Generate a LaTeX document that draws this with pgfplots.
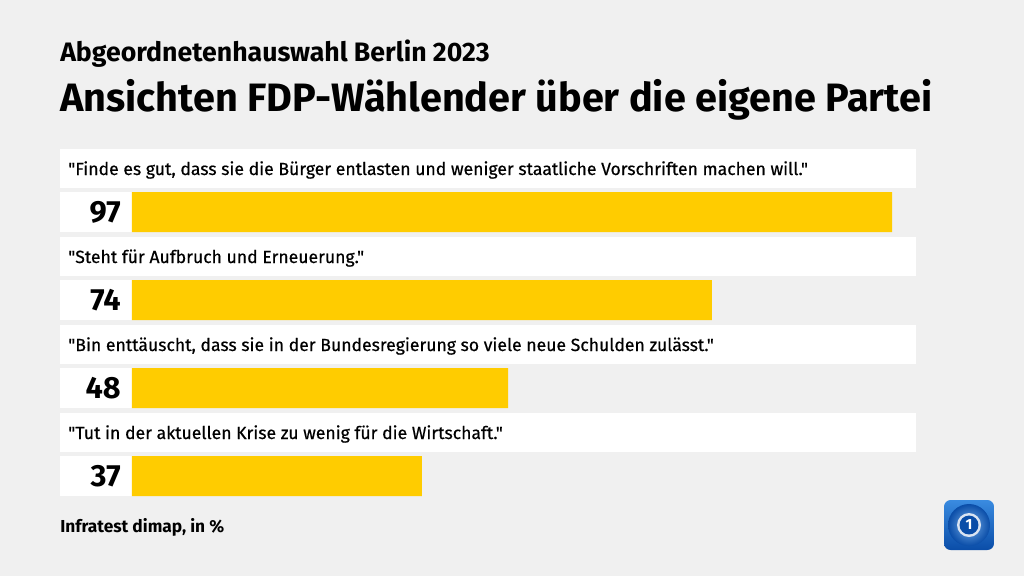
\documentclass[border=0pt]{standalone}
\usepackage{pgfplots}
\pgfplotsset{compat=1.18}
\usepackage{fontspec}
\setmainfont{Fira Sans}
\newfontfamily\labelfont{Fira Sans}[FakeBold=0.5]
\newcommand\q{\symbol{34}}
\definecolor{bg}{HTML}{F0F0F0}
\definecolor{bary}{HTML}{FFCC00}
\definecolor{ardblue}{HTML}{0A4DA8}
\definecolor{ardlight}{HTML}{3A8BE0}
% px -> data x
\newcommand\px[1]{{(#1-132)/7.8351}}
\begin{document}
\begin{tikzpicture}
\begin{axis}[scale only axis,
  width=768pt, height=432pt, xmin=-16.847, xmax=113.847, ymin=0, ymax=576,
  y dir=reverse, hide axis, clip=false]
\fill[bg] (rel axis cs:0,0) rectangle (rel axis cs:1,1);
\node[anchor=base west, inner sep=0, font=\bfseries\fontsize{20}{22}\selectfont] at (axis cs:\px{60},61) {Abgeordnetenhauswahl Berlin 2023};
\node[anchor=base west, inner sep=0, font=\bfseries\fontsize{29.7}{34}\selectfont] at (axis cs:\px{60},111) {Ansichten FDP-Wählender über die eigene Partei};
% row boxes
\fill[white] (axis cs:\px{60},149) rectangle (axis cs:\px{916},188);
\fill[white] (axis cs:\px{60},192) rectangle (axis cs:\px{132},232);
\fill[white] (axis cs:\px{60},237) rectangle (axis cs:\px{916},276);
\fill[white] (axis cs:\px{60},280) rectangle (axis cs:\px{132},320);
\fill[white] (axis cs:\px{60},325) rectangle (axis cs:\px{916},364);
\fill[white] (axis cs:\px{60},368) rectangle (axis cs:\px{132},408);
\fill[white] (axis cs:\px{60},413) rectangle (axis cs:\px{916},452);
\fill[white] (axis cs:\px{60},456) rectangle (axis cs:\px{132},496);
\node[anchor=base west, inner sep=0, font=\labelfont\fontsize{13.2}{16}\selectfont] at (axis cs:\px{68},175) {\q Finde es gut, dass sie die Bürger entlasten und weniger staatliche Vorschriften machen will.\q};
\node[anchor=base west, inner sep=0, font=\labelfont\fontsize{13.2}{16}\selectfont] at (axis cs:\px{68},263) {\q Steht für Aufbruch und Erneuerung.\q};
\node[anchor=base west, inner sep=0, font=\labelfont\fontsize{13.2}{16}\selectfont] at (axis cs:\px{68},351) {\q Bin enttäuscht, dass sie in der Bundesregierung so viele neue Schulden zulässt.\q};
\node[anchor=base west, inner sep=0, font=\labelfont\fontsize{13.2}{16}\selectfont] at (axis cs:\px{68},439) {\q Tut in der aktuellen Krise zu wenig für die Wirtschaft.\q};
\node[anchor=base west, inner sep=0, font=\bfseries\fontsize{13}{15}\selectfont] at (axis cs:\px{60},532) {Infratest dimap, in \%};
% logo
\shade[rounded corners=5pt, top color=ardlight, bottom color=ardblue] (axis cs:\px{944},500) rectangle (axis cs:\px{994},550);
\shade[inner color=ardlight!70!white, outer color=ardblue] (axis cs:\px{969},525) circle (15.75pt);
\fill[white!85!ardblue] (axis cs:\px{969},525) circle (9pt);
\fill[ardblue] (axis cs:\px{969},525) circle (7.1pt);
\node[font=\bfseries\fontsize{11}{12}\selectfont, text=white] at (axis cs:\px{969},525) {1};
% data
\addplot[xbar, bar width=30pt, fill=bary, draw=none] coordinates {(97,212) (74,300) (48,388) (37,476)};
\addplot[draw=none, mark=none, nodes near coords, point meta=explicit symbolic,
  nodes near coords style={anchor=east, inner sep=0pt, xshift=-8.25pt, font=\bfseries\fontsize{23}{25}\selectfont, text=black}]
  coordinates {(0,212)[97] (0,300)[74] (0,388)[48] (0,476)[37]};
\end{axis}
\end{tikzpicture}
\end{document}
